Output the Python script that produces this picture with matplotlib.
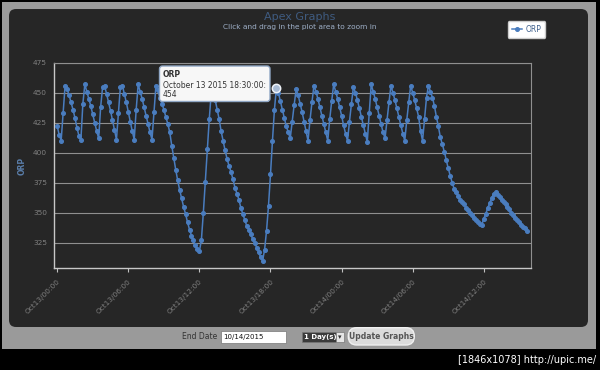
import datetime
import numpy as np
import matplotlib.pyplot as plt
from matplotlib.patches import FancyBboxPatch, Rectangle

# ORP readings, one every 10 minutes from Oct 13 2015 00:00
start = datetime.datetime(2015, 10, 13, 0, 0)
step_min = 10
orp = [
    422, 415, 410, 433, 456, 453, 448, 442, 436, 429,
    421, 414, 411, 441, 457, 451, 445, 439, 432, 425,
    418, 412, 438, 455, 456, 449, 442, 435, 427, 419,
    411, 433, 455, 456, 449, 442, 434, 426, 418, 411,
    436, 457, 451, 445, 438, 431, 424, 417, 411, 434,
    456, 452, 446, 441, 436, 430, 424, 417, 406, 396,
    386, 377, 369, 362, 355, 349, 342, 336, 331, 327,
    323, 320, 318, 327, 350, 376, 403, 428, 450, 457,
    444, 436, 428, 418, 410, 402, 395, 389, 384, 378,
    371, 366, 361, 354, 349, 344, 339, 336, 332, 328,
    325, 321, 317, 313, 310, 319, 335, 356, 382, 410,
    436, 454, 450, 443, 436, 429, 422, 417, 412, 426,
    440, 453, 448, 441, 434, 426, 418, 410, 427, 442,
    456, 451, 445, 438, 431, 424, 417, 410, 428, 443,
    457, 451, 445, 438, 431, 423, 416, 410, 426, 441,
    455, 450, 444, 437, 430, 423, 416, 409, 433, 457,
    451, 445, 438, 431, 424, 417, 412, 427, 442, 456,
    450, 444, 437, 430, 423, 416, 410, 427, 442, 456,
    450, 444, 437, 430, 418, 410, 428, 446, 456, 451,
    446, 439, 430, 422, 413, 407, 401, 394, 387, 381,
    375, 370, 367, 364, 361, 359, 357, 354, 352, 350,
    348, 346, 344, 342, 341, 340, 345, 349, 354, 358,
    362, 366, 367, 365, 363, 361, 359, 357, 355, 353,
    350, 348, 346, 344, 342, 340, 338, 337, 335,
]
tick_hours = [0, 6, 12, 18, 24, 30, 36]
tick_labels = ['Oct13/00:00', 'Oct13/06:00', 'Oct13/12:00', 'Oct13/18:00',
               'Oct14/00:00', 'Oct14/06:00', 'Oct14/12:00']
y_ticks = [325, 350, 375, 400, 425, 450, 475]
hover_idx = 111
end_date = '10/14/2015'

times = np.arange(len(orp)) * step_min / 60.0
blue = '#4a7dbf'
W, H = 600, 370

fig = plt.figure(figsize=(6, 3.7), dpi=100)
fig.patch.set_facecolor('black')

# page background in pixel coords
bg = fig.add_axes([0, 0, 1, 1], zorder=0)
bg.set_xlim(0, W)
bg.set_ylim(H, 0)
bg.axis('off')
bg.add_patch(Rectangle((2, 2), 594, 347, fc='#9a9a9a', ec='none'))
bg.add_patch(FancyBboxPatch((9, 9), 579, 318, boxstyle='round,pad=0,rounding_size=7',
                            fc='#262626', ec='none'))

bg.text(300, 16.7, 'Apex Graphs', ha='center', va='center', fontsize=8, color='#3f5b80')
bg.text(300, 27.3, 'Click and drag in the plot area to zoom in', ha='center', va='center',
        fontsize=5.3, color='#9fb0c8')

# controls under the chart
bg.text(217, 336.7, 'End Date', ha='right', va='center', fontsize=5.5, color='#333333')
bg.add_patch(Rectangle((220.7, 330.7), 65.3, 12, fc='white', ec='#777777', lw=0.5))
bg.text(223, 336.9, end_date, ha='left', va='center', fontsize=5, color='#111111')
bg.add_patch(Rectangle((301.7, 331.7), 34, 10, fc='#3a3a3a', ec='#777777', lw=0.5))
bg.text(304, 336.9, '1 Day(s)', ha='left', va='center', fontsize=5, color='white',
        weight='bold')
bg.add_patch(Rectangle((336, 331.7), 8, 10, fc='#e6e6e6', ec='#777777', lw=0.5))
bg.text(340, 336.7, '▾', ha='center', va='center', fontsize=5, color='#333333')
bg.add_patch(FancyBboxPatch((348.3, 327.7), 66, 17.3, boxstyle='round,pad=0,rounding_size=8.5',
                            fc='#dcdcdc', ec='#f0f0f0', lw=1))
bg.text(381.3, 336.5, 'Update Graphs', ha='center', va='center', fontsize=5.5,
        color='#555555', weight='bold')
bg.text(596, 360, '[1846x1078] http://upic.me/', ha='right', va='center',
        fontsize=7, color='white')

# the chart
ax = fig.add_axes([54 / W, 1 - 268.3 / H, (530.7 - 54) / W, (268.3 - 62.7) / H], zorder=1)
ax.set_facecolor('#262626')
ax.plot(times, orp, color=blue, lw=1.1, marker='o', ms=2.6, mfc=blue, mec=blue, zorder=3)
ax.plot(times[hover_idx], orp[hover_idx], 'o', ms=6, mfc='#a9bcd6', mec='#eef2f8',
        mew=1.1, zorder=4)

ax.set_xlim(-0.27, 39.96)
ax.set_ylim(303.7, 475)
ax.set_yticks(y_ticks)
ax.set_xticks(tick_hours)
ax.set_xticklabels(tick_labels, rotation=45, ha='right', va='top', rotation_mode='anchor')
ax.tick_params(axis='y', length=0, pad=5, labelsize=5.3, labelcolor='#808080')
ax.tick_params(axis='x', length=3, width=0.8, color='#c0c0c0', pad=4, labelsize=5.3,
               labelcolor='#808080')
ax.grid(axis='y', color='#8f8f8f', lw=0.8)
ax.set_axisbelow(True)
for side in ['top', 'right']:
    ax.spines[side].set_color('#8f8f8f')
    ax.spines[side].set_linewidth(0.8)
for side in ['left', 'bottom']:
    ax.spines[side].set_color('#c8c8c8')
    ax.spines[side].set_linewidth(1)

ax.set_ylabel('ORP', fontsize=5.5, color='#5a7eaa', weight='bold')
ax.yaxis.set_label_coords(-0.057, 0.5)

leg = ax.legend(['ORP'], loc='upper right', bbox_to_anchor=(549 / W, 1 - 17.3 / H),
                bbox_transform=fig.transFigure, fontsize=5.5, frameon=True, fancybox=True,
                facecolor='white', edgecolor='#cccccc', framealpha=1, handlelength=1.4,
                handletextpad=0.4, borderpad=0.5, labelcolor='#3d5f8c')

# hover tooltip on top
ov = fig.add_axes([0, 0, 1, 1], zorder=2)
ov.set_xlim(0, W)
ov.set_ylim(H, 0)
ov.axis('off')
ov.patch.set_alpha(0)
ov.add_patch(FancyBboxPatch((159.5, 66), 110.5, 35.5, boxstyle='round,pad=0,rounding_size=3',
                            fc='#f7f7f7', ec='#8fa6c4', lw=1))
hover_time = start + datetime.timedelta(minutes=step_min * hover_idx)
ov.text(163, 74.5, 'ORP', fontsize=5.5, weight='bold', color='#333333', va='center')
ov.text(163, 85, hover_time.strftime('%B %d %Y %H:%M:%S:'), fontsize=5.5,
        color='#333333', va='center')
ov.text(163, 94.5, str(orp[hover_idx]), fontsize=5.5, color='#333333', va='center')

fig.savefig('out.png', dpi=100, facecolor=fig.get_facecolor())
